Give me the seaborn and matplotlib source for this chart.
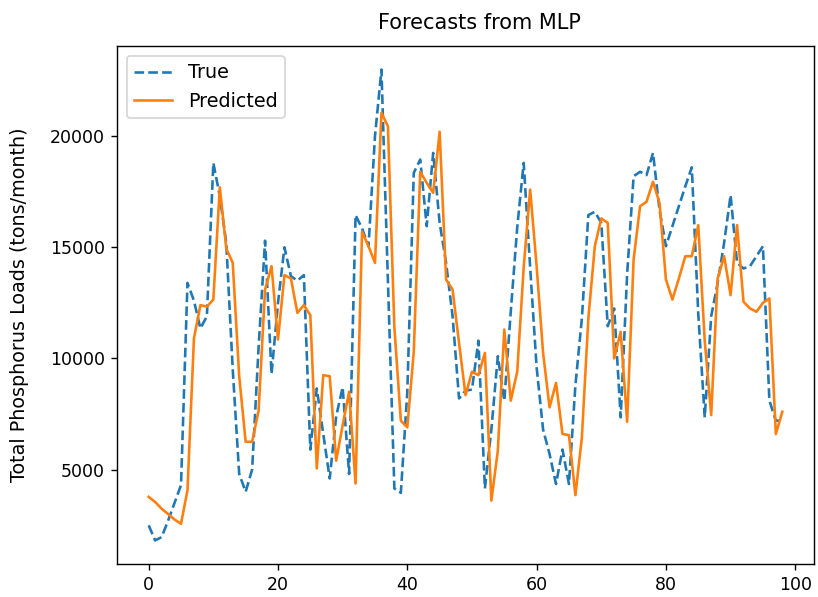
# Forecasts from MLP: true vs predicted phosphorus loads

import numpy as np
import pandas as pd
import matplotlib
matplotlib.use("Agg")
import matplotlib.pyplot as plt
import seaborn as sns

# monthly loads (tons/month), index 0..98
true_loads = [
    2490, 1810, 1960, 2700, 3500, 4300, 13400, 12600, 11350, 11900,
    18800, 17300, 15200, 9500, 4800, 4000, 5000, 10500, 15300, 9300,
    12500, 15000, 13700, 13500, 13750, 5900, 8650, 6600, 4600, 7400,
    8700, 4800, 16450, 15850, 15050, 20000, 23000, 13500, 4150, 3950,
    8500, 18350, 18950, 15950, 19250, 16100, 14300, 11900, 8200, 8550,
    8600, 10800, 4150, 6800, 10100, 8100, 12100, 15900, 18800, 14100,
    9600, 6800, 5700, 4350, 5900, 4350, 8800, 11800, 16450, 16600,
    16100, 11450, 12250, 7350, 13800, 18200, 18400, 18250, 19250, 16700,
    15050, 15950, 16850, 17750, 18600, 12000, 7350, 11900, 13400, 15200,
    17350, 14300, 14050, 14150, 14600, 15050, 8100, 7200, 7200,
]
predicted_loads = [
    3770, 3540, 3240, 3000, 2750, 2560, 4070, 10900, 12400, 12330,
    12650, 17700, 14950, 14300, 9200, 6250, 6250, 7650, 13100, 14150,
    10850, 13750, 13600, 12050, 12400, 11950, 5050, 9250, 9200, 5400,
    7000, 8500, 4370, 15700, 15050, 14300, 21050, 20450, 11400, 7200,
    6900, 10300, 18400, 17900, 17450, 20200, 13550, 13100, 10700, 8350,
    9400, 9250, 10250, 3600, 5850, 11300, 8100, 9400, 14100, 17600,
    14150, 10250, 7800, 8900, 6600, 6550, 3850, 6450, 11800, 15050,
    16300, 16100, 10000, 11200, 7150, 14450, 16850, 17050, 17950, 17000,
    13550, 12650, 13600, 14600, 14600, 16000, 10800, 7450, 13600, 14600,
    12850, 16000, 12550, 12250, 12100, 12500, 12700, 6600, 7600,
]


def main():
    df = pd.DataFrame({
        "step": np.arange(len(true_loads)),
        "True": true_loads,
        "Predicted": predicted_loads,
    })

    # 818x597 px at 125 dpi so text and lines come out at the reference size
    fig = plt.figure(figsize=(818 / 125, 597 / 125), dpi=125)
    ax = fig.add_axes([117 / 818, 1 - 564 / 597, (814 - 117) / 818, (564 - 46) / 597])

    sns.lineplot(x="step", y="True", data=df, ax=ax, label="True",
                 color="#1f77b4", linestyle="--")
    sns.lineplot(x="step", y="Predicted", data=df, ax=ax, label="Predicted",
                 color="#ff7f0e")

    ax.set_title("Forecasts from MLP", x=0.52, pad=10)
    ax.set_xlabel("")
    ax.set_ylabel("Total Phosphorus Loads (tons/month)", fontsize=11, labelpad=12)
    ax.legend(loc="upper left", fontsize=11)

    fig.savefig("out.png", dpi=125)


if __name__ == "__main__":
    main()
